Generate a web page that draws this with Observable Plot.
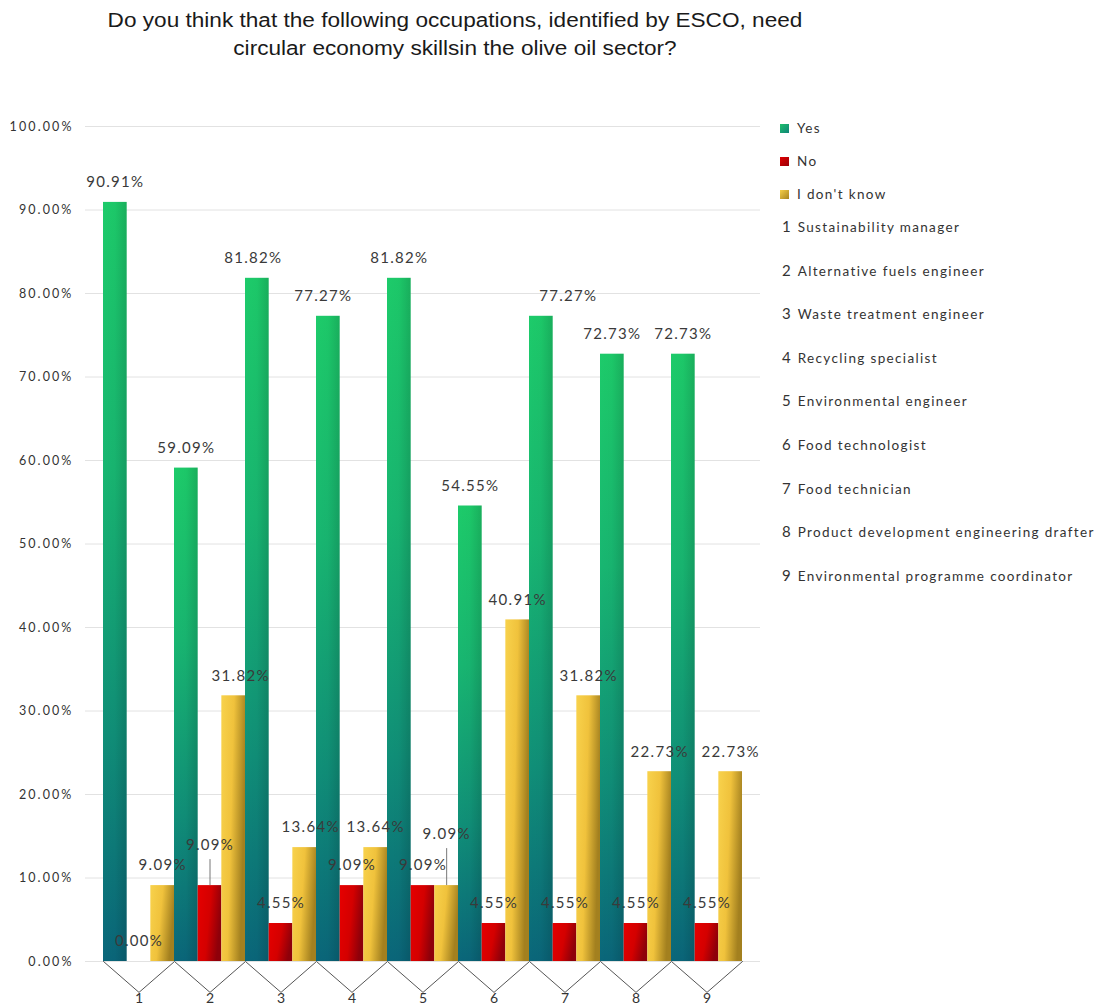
<!DOCTYPE html>
<html>
<head>
<meta charset="utf-8">
<script src="https://cdn.jsdelivr.net/npm/d3@7"></script>
<script src="https://cdn.jsdelivr.net/npm/@observablehq/plot@0.6"></script>
<style>
  html, body { margin: 0; padding: 0; background: #fff; }
  #wrap { position: relative; width: 1097px; height: 1006px; overflow: hidden; }
  #title { position: absolute; left: 0; top: 6px; width: 910px;
           text-align: center; font-family: "Liberation Sans", Arial, sans-serif; font-size: 20px;
           line-height: 28px; color: #1a1a1a; transform: scaleX(1.13); transform-origin: 50% 0; }
  #chart { position: absolute; left: 0; top: 0; }
  #legend { position: absolute; left: 780px; top: 0; font-family: Lato, "Noto Sans", sans-serif; color: #333; }
  .lg { position: absolute; white-space: nowrap; font-size: 13.5px; letter-spacing: 1.35px; }
  .sw { display: inline-block; width: 9px; height: 9px; margin-right: 8px; vertical-align: 0px; }
  .num { font-size: 15px; margin-right: 7px; margin-left: 2px; letter-spacing: 0; }
  #chart g[aria-label="y-axis tick label"] text { letter-spacing: 2.1px; }
  #chart g.vlabel text { letter-spacing: 1.3px; }
</style>
</head>
<body>
<div id="wrap">
  <div id="chart"></div>
  <div id="title">Do you think that the following occupations, identified by ESCO, need<br>circular economy skillsin the olive oil sector?</div>
  <div id="legend"></div>
</div>
<script>
// ---- data ----
const categories = ["1", "2", "3", "4", "5", "6", "7", "8", "9"];
const occupations = [
  "Sustainability manager",
  "Alternative fuels engineer",
  "Waste treatment engineer",
  "Recycling specialist",
  "Environmental engineer",
  "Food technologist",
  "Food technician",
  "Product development engineering drafter",
  "Environmental programme coordinator"
];
const series = ["Yes", "No", "I don't know"];
const yesValues = [90.91, 59.09, 81.82, 77.27, 81.82, 54.55, 77.27, 72.73, 72.73];
const noValues = [0.00, 9.09, 4.55, 9.09, 9.09, 4.55, 4.55, 4.55, 4.55];
const idkValues = [9.09, 31.82, 13.64, 13.64, 9.09, 40.91, 31.82, 22.73, 22.73];
const yTicks = [0, 10, 20, 30, 40, 50, 60, 70, 80, 90, 100];

// ---- styling ----
const seriesValues = [yesValues, noValues, idkValues];
const gradIds = ["gYes", "gNo", "gIdk"];
const swatchCss = [
  "linear-gradient(135deg, #1fc06c, #0f8478)",
  "linear-gradient(135deg, #e00000, #9a0008)",
  "linear-gradient(135deg, #f5cf48, #a8841f)"
];
// label nudges (px) and leader lines (px), keyed by "category|series index"
const nudges = {
  "2|1": {dy: -20, leader: 26},
  "2|2": {dx: 7},
  "3|0": {dx: -4},
  "3|2": {dx: 6},
  "4|0": {dx: -5},
  "5|2": {dy: -31, leader: 37},
  "7|0": {dx: 27}
};
const dip = -3.7; // depth of the zig-zag under the axis (y units)

const rows = [];
categories.forEach((c, k) => {
  series.forEach((s, j) => {
    const n = nudges[c + "|" + j] || {};
    rows.push({cat: c, series: s, j, value: seriesValues[j][k], pos: k * 3 + j,
               dx: n.dx || 0, dy: n.dy || 0, leader: n.leader || 0});
  });
});

const zig = [];
categories.forEach((c, k) => {
  zig.push({x: k * 3, y: 0});
  zig.push({x: k * 3 + 1.5, y: dip});
});
zig.push({x: categories.length * 3, y: 0});

const fmt = d => d.toFixed(2) + "%";

const marks = [
  Plot.ruleY(yTicks, {stroke: "#e2e2e2", strokeWidth: 1}),
  ...series.map((s, j) => Plot.rectY(rows.filter(r => r.j === j), {
    x1: d => d.pos, x2: d => d.pos + 1, y: "value", fill: `url(#${gradIds[j]})`
  })),
  Plot.rectY(rows.filter(r => r.j === 0), {
    x1: d => d.pos, x2: d => d.pos + 1, y: "value", fill: "url(#gShade)"
  }),
  Plot.line(zig, {x: "x", y: "y", stroke: "#555", strokeWidth: 1}),
  Plot.text(categories, {
    x: (d, i) => i * 3 + 1.5, y: dip, text: d => d, lineAnchor: "top", dy: 1,
    fontSize: 14, fill: "#333"
  }),
  ...rows.filter(r => r.leader).map(r => Plot.ruleX([r], {
    x: d => d.pos + 0.5, y1: "value", y2: "value", insetTop: 0, insetBottom: r.leader,
    stroke: "#777", strokeWidth: 1
  })),
  ...rows.map(r => Plot.text([r], {
    x: d => d.pos + 0.5, y: "value", text: d => fmt(d.value),
    dy: -20 + r.dy, dx: r.dx, lineAnchor: "middle", fontSize: 15, fill: "#3a3a3a",
    className: "vlabel"
  })),
  Plot.axisY(yTicks, {
    tickFormat: d => d.toFixed(2) + "%", tickSize: 0, tickPadding: 12,
    fontSize: 12.5, fill: "#333"
  })
];

const chart = Plot.plot({
  width: 1097,
  height: 1006,
  marginTop: 126,
  marginBottom: 45,
  marginLeft: 85,
  marginRight: 337,
  style: {fontFamily: "Lato, 'Noto Sans', sans-serif", background: "transparent", overflow: "visible"},
  x: {type: "linear", domain: [0, categories.length * 3], range: [103, 742], axis: null},
  y: {domain: [0, 100], axis: null},
  marks
});

d3.select(chart).insert("defs", ":first-child").html(`
  <linearGradient id="gYes" x1="0" y1="0" x2="0" y2="1">
    <stop offset="0" stop-color="#1dcb6a"/>
    <stop offset="0.35" stop-color="#18b671"/>
    <stop offset="0.7" stop-color="#108f78"/>
    <stop offset="1" stop-color="#0a667a"/>
  </linearGradient>
  <linearGradient id="gShade" x1="0" y1="0" x2="1" y2="0">
    <stop offset="0" stop-color="#000" stop-opacity="0"/>
    <stop offset="0.5" stop-color="#000" stop-opacity="0.02"/>
    <stop offset="1" stop-color="#000" stop-opacity="0.14"/>
  </linearGradient>
  <linearGradient id="gNo" x1="0" y1="0" x2="1" y2="0.3">
    <stop offset="0" stop-color="#e60000"/>
    <stop offset="0.55" stop-color="#d40000"/>
    <stop offset="1" stop-color="#8e000a"/>
  </linearGradient>
  <linearGradient id="gIdk" x1="0" y1="0" x2="1" y2="0.3">
    <stop offset="0" stop-color="#f8d24c"/>
    <stop offset="0.5" stop-color="#f0c23c"/>
    <stop offset="1" stop-color="#a3801f"/>
  </linearGradient>
`);

document.getElementById("chart").appendChild(chart);

// ---- legend ----
const legend = document.getElementById("legend");
const legendY = [129, 162, 195];
series.forEach((s, j) => {
  const el = document.createElement("div");
  el.className = "lg";
  el.style.top = (legendY[j] - 9) + "px";
  el.innerHTML = `<span class="sw" style="background:${swatchCss[j]}"></span>${s}`;
  legend.appendChild(el);
});
const listTop = 227, listStep = 43.6;
categories.forEach((c, k) => {
  const el = document.createElement("div");
  el.className = "lg";
  el.style.top = (listTop + k * listStep - 10) + "px";
  el.innerHTML = `<span class="num">${c}</span>${occupations[k]}`;
  legend.appendChild(el);
});
</script>
</body>
</html>
